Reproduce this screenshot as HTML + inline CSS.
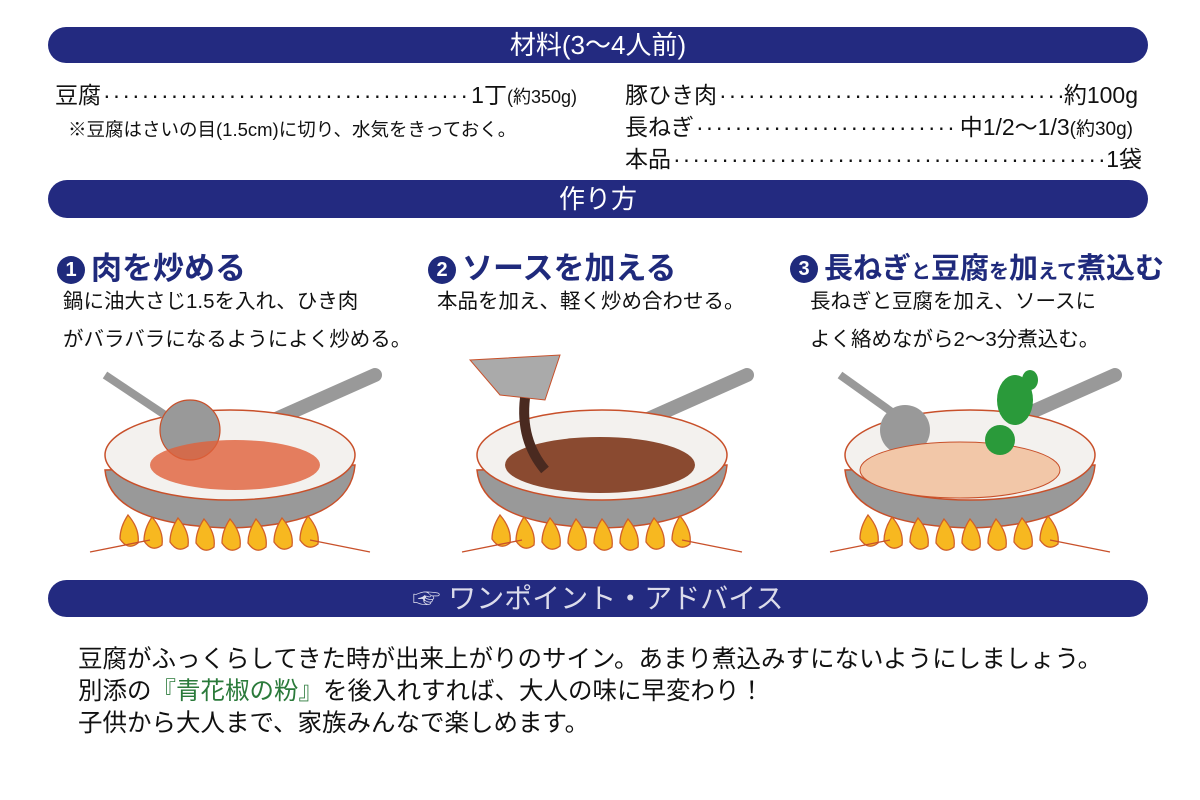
<!DOCTYPE html>
<html><head><meta charset="utf-8"><style>
body{margin:0;width:1200px;height:800px;background:#fff;position:relative;overflow:hidden;font-family:"Liberation Sans","Noto Sans CJK JP",sans-serif;color:#111}
.ban{position:absolute;left:48px;width:1100px;background:#232a80;border-radius:20px;color:#fff;text-align:center;font-size:26px}
.t{position:absolute;white-space:nowrap}
.row{position:absolute;display:flex;font-size:23px;white-space:nowrap;line-height:30px}
.row .f{flex:1;overflow:hidden;letter-spacing:2px;margin:0 2px}
.st{position:absolute;font-size:31px;font-weight:bold;color:#1f2a7c;white-space:nowrap}
.num{display:inline-block;width:28px;height:28px;border-radius:50%;background:#1f2a7c;color:#fff;font-size:20px;line-height:28px;text-align:center;vertical-align:3px;margin-right:6px}
.d{position:absolute;font-size:20.5px;line-height:38px;white-space:nowrap}
</style></head><body>
<div class="ban" style="top:27px;height:36px;line-height:36px">材料(3～4人前)</div>
<div class="row" style="left:55px;top:80px;width:522px"><span>豆腐</span><span class="f">··············································</span><span>1丁<span style="font-size:18px">(約350g)</span></span></div>
<div class="t" style="left:68px;top:116px;font-size:18.5px">※豆腐はさいの目(1.5cm)に切り、水気をきっておく。</div>
<div class="row" style="left:625px;top:80px;width:513px"><span>豚ひき肉</span><span class="f">··············································</span><span>約100g</span></div>
<div class="row" style="left:625px;top:112px;width:508px"><span>長ねぎ</span><span class="f">··············································</span><span>中1/2～1/3<span style="font-size:19px">(約30g)</span></span></div>
<div class="row" style="left:625px;top:144px;width:517px"><span>本品</span><span class="f">··············································</span><span>1袋</span></div>
<div class="ban" style="top:180px;height:38px;line-height:38px">作り方</div>
<div class="st" style="left:57px;top:243px"><span class="num">1</span>肉を炒める</div>
<div class="st" style="left:428px;top:243px"><span class="num">2</span>ソースを加える</div>
<div class="st" style="left:790px;top:245px;font-size:29px"><span class="num">3</span>長ねぎ<span style="font-size:20px">と</span>豆腐<span style="font-size:20px">を</span>加<span style="font-size:20px">え</span><span style="font-size:20px">て</span>煮込む</div>
<div class="d" style="left:63px;top:283px">鍋に油大さじ1.5を入れ、ひき肉<br>がバラバラになるようによく炒める。</div>
<div class="d" style="left:437px;top:283px">本品を加え、軽く炒め合わせる。</div>
<div class="d" style="left:810px;top:283px">長ねぎと豆腐を加え、ソースに<br>よく絡めながら2～3分煮込む。</div>
<svg width="1200" height="800" style="position:absolute;left:0;top:0">
<defs>
<g id="pan">
<line x1="240" y1="435" x2="375" y2="375" stroke="#999" stroke-width="14" stroke-linecap="round"/>
<path d="M105 470 Q110 525 230 528 Q350 525 355 465 Z" fill="#999" stroke="#c8502a" stroke-width="1.5"/>
<ellipse cx="230" cy="455" rx="125" ry="45" fill="#f3f1ee" stroke="#c8502a" stroke-width="1.5"/>
<g fill="#f7b820" stroke="#d0602a" stroke-width="1.3">
<path d="M128 515 q12 14 10 28 q-10 8 -18 -4 q0 -12 8 -24z"/><path d="M152 517 q12 14 10 28 q-10 8 -18 -4 q0 -12 8 -24z"/><path d="M178 518 q12 14 10 28 q-10 8 -18 -4 q0 -12 8 -24z"/><path d="M204 519 q12 14 10 28 q-10 8 -18 -4 q0 -12 8 -24z"/><path d="M230 519 q12 14 10 28 q-10 8 -18 -4 q0 -12 8 -24z"/><path d="M256 519 q12 14 10 28 q-10 8 -18 -4 q0 -12 8 -24z"/><path d="M282 518 q12 14 10 28 q-10 8 -18 -4 q0 -12 8 -24z"/><path d="M308 516 q12 14 10 28 q-10 8 -18 -4 q0 -12 8 -24z"/>
</g>
<path d="M90 552 L150 540 M310 540 L370 552" stroke="#c8502a" stroke-width="1.3" fill="none"/>
</g>
</defs>
<use href="#pan" x="0" y="0"/>
<line x1="105" y1="375" x2="180" y2="425" stroke="#999" stroke-width="8"/>
<circle cx="190" cy="430" r="30" fill="#999" stroke="#c8502a" stroke-width="1.2"/>
<ellipse cx="235" cy="465" rx="85" ry="25" fill="#e0603a" opacity=".8"/>
<use href="#pan" x="372" y="0"/>
<ellipse cx="600" cy="465" rx="95" ry="28" fill="#8a4a30"/>
<path d="M470 360 L560 355 L545 400 L500 395 Z" fill="#aaa" stroke="#c8502a"/>
<path d="M525 398 Q520 440 545 470" stroke="#4a2a20" stroke-width="10" fill="none"/>
<use href="#pan" x="740" y="0"/>
<line x1="840" y1="375" x2="910" y2="425" stroke="#999" stroke-width="8"/>
<circle cx="905" cy="430" r="25" fill="#999"/>
<ellipse cx="960" cy="470" rx="100" ry="28" fill="#f2c7a8" stroke="#c8502a"/>
<g fill="#2a9a3a"><ellipse cx="1015" cy="400" rx="18" ry="25"/><ellipse cx="1000" cy="440" rx="15" ry="15"/><ellipse cx="1030" cy="380" rx="8" ry="10"/></g>
</svg>
<div class="ban" style="top:580px;height:37px;line-height:37px;color:#dcdceb;font-size:28px">☞ ワンポイント・アドバイス</div>
<div class="t" style="left:78px;top:644px;font-size:24.5px;line-height:32px">豆腐がふっくらしてきた時が出来上がりのサイン。あまり煮込みすにないようにしましょう。<br>別添の<span style="color:#2a7a3a">『青花椒の粉』</span>を後入れすれば、大人の味に早変わり！<br>子供から大人まで、家族みんなで楽しめます。</div>
</body></html>
